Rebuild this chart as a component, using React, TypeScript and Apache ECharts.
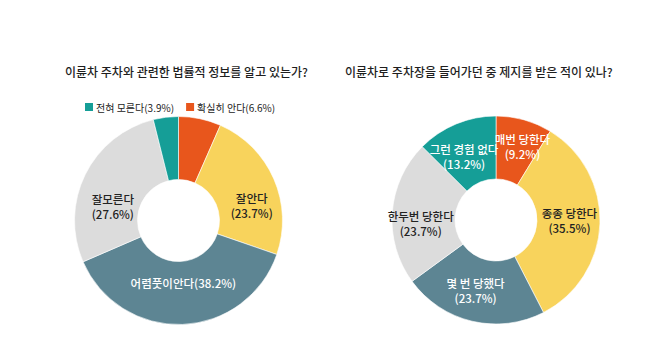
import React, { useEffect, useRef } from "react";
import * as echarts from "echarts";

const leftTitle = "이륜차 주차와 관련한 법률적 정보를 알고 있는가?";
const rightTitle = "이륜차로 주차장을 들어가던 중 제지를 받은 적이 있나?";

const leftCategories = ["확실히 안다", "잘안다", "어렴풋이안다", "잘모른다", "전혀 모른다"];
const leftValues = [6.6, 23.7, 38.2, 27.6, 3.9];
const leftLegendItems = ["전혀 모른다", "확실히 안다"];

const rightCategories = ["매번 당한다", "종종 당한다", "몇 번 당했다", "한두번 당한다", "그런 경험 없다"];
const rightValues = [9.2, 35.5, 23.7, 23.7, 13.2];

const ORANGE = "#e8561c";
const YELLOW = "#f8d35c";
const SLATE = "#5d8593";
const GRAY = "#dcdcdc";
const TEAL = "#159e97";
const DARK = "#222222";

const leftColors = [ORANGE, YELLOW, SLATE, GRAY, TEAL];
const leftLabelColors = ["#fff", DARK, "#fff", DARK, "#fff"];
const leftLabelOffsets = [[0, 0], [4, 15], [2, -13], [2, 19], [0, 0]];

const rightColors = [ORANGE, YELLOW, SLATE, GRAY, TEAL];
const rightLabelColors = ["#fff", DARK, "#fff", DARK, "#fff"];
const rightLabelOffsets = [[6, -1], [-2, -2], [-3, -3], [0, 9], [-3, 6]];

const FONT = "'Noto Sans CJK KR', 'Noto Sans', sans-serif";

export default function App() {
  const ref = useRef<HTMLDivElement>(null);
  useEffect(() => {
    document.body.style.margin = "0";
    const chart = echarts.init(ref.current!, null, { renderer: "svg" });
    const leftData = leftCategories.map((name, i) => {
      const inLegend = leftLegendItems.includes(name);
      const oneLine = leftValues[i] > 35;
      return {
        name,
        value: leftValues[i],
        itemStyle: { color: leftColors[i] },
        label: {
          show: !inLegend,
          color: leftLabelColors[i],
          formatter: oneLine ? "{b}({c}%)" : "{b}\n({c}%)",
        },
      };
    });
    const rightData = rightCategories.map((name, i) => ({
      name,
      value: rightValues[i],
      itemStyle: { color: rightColors[i] },
      label: { show: true, color: rightLabelColors[i], formatter: "{b}\n({c}%)" },
    }));
    const common = {
      type: "pie",
      radius: [41, 104],
      startAngle: 90,
      clockwise: true,
      avoidLabelOverlap: false,
      silent: true,
      itemStyle: { borderColor: "#ffffff", borderWidth: 0.6 },
      labelLine: { show: false },
    };
    const labelStyle = { position: "inside", fontSize: 11.5, lineHeight: 15, fontWeight: 500, fontFamily: FONT };
    chart.setOption({
      animation: false,
      backgroundColor: "#ffffff",
      textStyle: { fontFamily: FONT },
      title: [
        {
          text: leftTitle,
          left: 65,
          top: 65,
          padding: 0,
          textStyle: { fontSize: 12, fontWeight: 500, color: "#1e1e1e", fontFamily: FONT },
        },
        {
          text: rightTitle,
          left: 345,
          top: 65,
          padding: 0,
          textStyle: { fontSize: 12, fontWeight: 500, color: "#1e1e1e", fontFamily: FONT },
        },
      ],
      legend: {
        data: leftLegendItems,
        left: 83,
        top: 101,
        padding: 0,
        icon: "rect",
        itemWidth: 10,
        itemHeight: 10,
        itemGap: 10,
        selectedMode: false,
        textStyle: { fontSize: 10, color: "#222", fontFamily: FONT, padding: [0, 0, 0, -3] },
        formatter: (name: string) => `${name}(${leftValues[leftCategories.indexOf(name)]}%)`,
      },
      series: [
        {
          ...common,
          name: "left",
          center: [178.5, 220.5],
          label: labelStyle,
          labelLayout: (p: any) => ({ dx: leftLabelOffsets[p.dataIndex][0], dy: leftLabelOffsets[p.dataIndex][1] }),
          data: leftData,
        },
        {
          ...common,
          name: "right",
          center: [496, 220],
          label: labelStyle,
          labelLayout: (p: any) => ({ dx: rightLabelOffsets[p.dataIndex][0], dy: rightLabelOffsets[p.dataIndex][1] }),
          data: rightData,
        },
      ],
    });
    return () => chart.dispose();
  }, []);
  return <div ref={ref} style={{ position: "fixed", left: 0, top: 0, width: 658, height: 362 }} />;
}
